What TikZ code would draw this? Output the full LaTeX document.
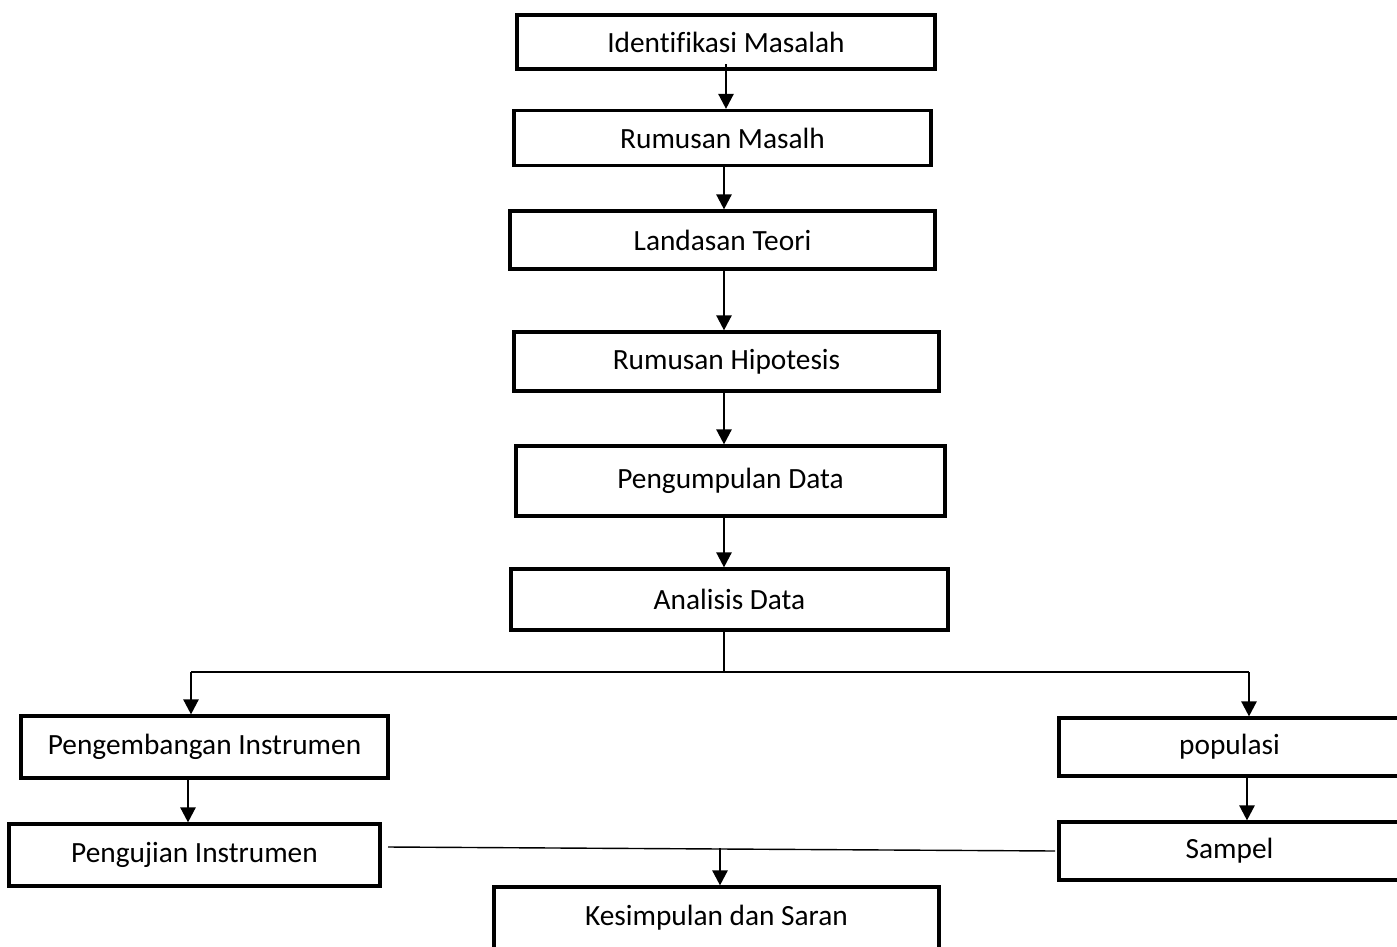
\documentclass[tikz,border=0pt]{standalone}
\usepackage{fontspec}
\setmainfont[Ligatures=NoCommon]{Carlito}
\usetikzlibrary{arrows.meta}
\begin{document}
\begin{tikzpicture}[x=0.02cm,y=-0.02cm]
\tikzstyle{box}=[draw, line width=1.8pt, inner sep=0pt, font=\fontsize{16.7}{19}\selectfont]
\tikzstyle{arr}=[line width=1.4pt, -{Triangle[length=0.3cm,width=0.3cm]}]
\tikzstyle{line}=[line width=0.8pt]
\useasboundingbox (0,0) rectangle (1397,947);
    \node[box, minimum width=8.36cm, minimum height=1.08cm] (1) at (726,42) {Identifikasi Masalah};
    \node[box, minimum width=8.34cm, minimum height=1.10cm] (2) at (722.5,138) {Rumusan Masalh};
    \node[box, minimum width=8.5cm, minimum height=1.16cm] (3) at (722.5,240) {Landasan Teori};
    \node[box, minimum width=8.5cm, minimum height=1.18cm] (4) at (726.5,361.5) {Rumusan Hipotesis};
    \node[box, minimum width=8.58cm, minimum height=1.4cm] (5) at (730.5,481) {Pengumpulan Data};
    \node[box, minimum width=8.74cm, minimum height=1.22cm] (6) at (729.5,599.5) {Analisis Data};
    \node[box, minimum width=7.34cm, minimum height=1.24cm] (7) at (204.5,747) {Pengembangan Instrumen};
    \node[box, minimum width=7.42cm, minimum height=1.24cm] (8) at (194.5,855) {Pengujian Instrumen};
    \node[box, minimum width=6.82cm, minimum height=1.16cm] (9) at (1229.5,747) {populasi};
    \node[box, minimum width=6.82cm, minimum height=1.16cm] (10) at (1229.5,851) {Sampel};
    \node[box, minimum width=8.9cm, minimum height=1.24cm] (11) at (716.5,918) {Kesimpulan dan Saran};

    % columns of the arrows
    \coordinate (a) at (726,64);
    \coordinate (b) at (724,0);
    \coordinate (l) at (188,0);
    \coordinate (r) at (1247,0);

    \coordinate (j) at (724,672);
    \coordinate (jl) at (191,672);
    \coordinate (jr) at (1249,672);
    \coordinate (ml) at (388,847);
    \coordinate (mr) at (1055,851);
    \coordinate (mm) at (720,848);

    \draw[arr] (a) -- (a |- 2.north);
    \draw[arr] (b |- 2.south) -- (b |- 3.north);
    \draw[arr] (b |- 3.south) -- (b |- 4.north);
    \draw[arr] (b |- 4.south) -- (b |- 5.north);
    \draw[arr] (b |- 5.south) -- (b |- 6.north);

    \draw[line] (j |- 6.south) -- (j);
    \draw[line] (jl) -- (jr);
    \draw[arr] (jl) -- (jl |- 7.north);
    \draw[arr] (jr) -- (jr |- 9.north);

    \draw[arr] (l |- 7.south) -- (l |- 8.north);
    \draw[arr] (r |- 9.south) -- (r |- 10.north);

    \draw[line] (ml) -- (mr);
    \draw[arr] (mm) -- (mm |- 11.north);

\end{tikzpicture}
\end{document}
